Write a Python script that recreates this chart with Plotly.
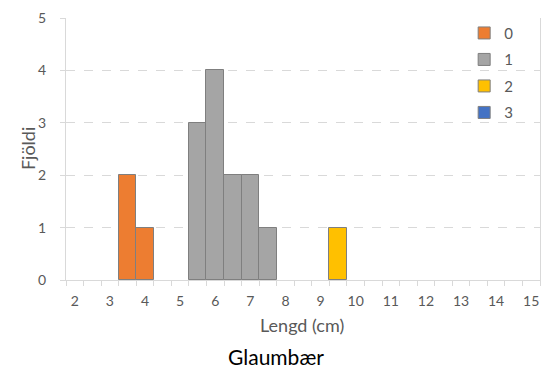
import plotly.graph_objects as go

# Data (bin centre in cm, count)
lengths_0 = [3.5, 4.0]
counts_0 = [2, 1]
lengths_1 = [5.5, 6.0, 6.5, 7.0, 7.5]
counts_1 = [3, 4, 2, 2, 1]
lengths_2 = [9.5]
counts_2 = [1]
lengths_3 = []
counts_3 = []
series_names = ["0", "1", "2", "3"]
x_tick_labels = [2, 3, 4, 5, 6, 7, 8, 9, 10, 11, 12, 13, 14, 15]
y_tick_labels = [0, 1, 2, 3, 4, 5]

colors = ["#ED7D31", "#A5A5A5", "#FFC000", "#4472C4"]
FONT = "Lato, Calibri, Carlito, sans-serif"

fig = go.Figure()
for name, xs, ys, c in zip(series_names,
                           [lengths_0, lengths_1, lengths_2, lengths_3],
                           [counts_0, counts_1, counts_2, counts_3],
                           colors):
    if len(xs) == 0:
        xs, ys = [None], [None]
    fig.add_trace(go.Bar(x=xs, y=ys, name=name, width=0.5,
                         legendgroup=name,
                         marker=dict(color=c, line=dict(color="#7F7F7F", width=1))))

fig.update_layout(
    width=550, height=376,
    margin=dict(l=66, r=9, t=15, b=96),
    paper_bgcolor="white", plot_bgcolor="white",
    barmode="overlay", bargap=0,
    font=dict(family=FONT, size=14, color="#595959"),
    showlegend=True,
    legend=dict(x=0.84, y=1.005, xanchor="left", yanchor="top",
                bgcolor="rgba(0,0,0,0)", tracegroupgap=4,
                font=dict(size=15, color="#595959")),
)
fig.update_xaxes(
    range=[1.75, 15.25], tickmode="array", tickvals=x_tick_labels,
    ticktext=[str(v) for v in x_tick_labels],
    ticks="", showgrid=False, zeroline=False,
    showline=True, linecolor="#D9D9D9", linewidth=1,
    ticklabelstandoff=8,
    minor=dict(ticks="outside", tick0=1.75, dtick=0.5, ticklen=5,
               tickcolor="#D9D9D9", showgrid=False),
)
fig.update_yaxes(
    range=[0, 5], tickmode="array", tickvals=y_tick_labels,
    ticks="outside", ticklen=5, tickcolor="#D9D9D9",
    showgrid=True, gridcolor="#D9D9D9", griddash="dash", gridwidth=1,
    zeroline=False, showline=True, mirror=True, linecolor="#D9D9D9", linewidth=1,
    ticklabelstandoff=11,
)
fig.add_annotation(text="Fjöldi", xref="paper", yref="paper", x=-(66 - 28) / 475, y=0.5,
                   xanchor="center", yanchor="middle", textangle=-90, showarrow=False,
                   font=dict(size=18, color="#595959"))
fig.add_annotation(text="Lengd (cm)", xref="paper", yref="paper", x=(302 - 66) / 475, y=-(326 - 280) / 265,
                   xanchor="center", yanchor="middle", showarrow=False,
                   font=dict(size=18, color="#595959"))
fig.add_annotation(text="Glaumbær", xref="paper", yref="paper", x=(276 - 66) / 475, y=-(357 - 280) / 265,
                   xanchor="center", yanchor="middle", showarrow=False,
                   font=dict(size=21, color="#000000"))

fig.write_html("out.html")
